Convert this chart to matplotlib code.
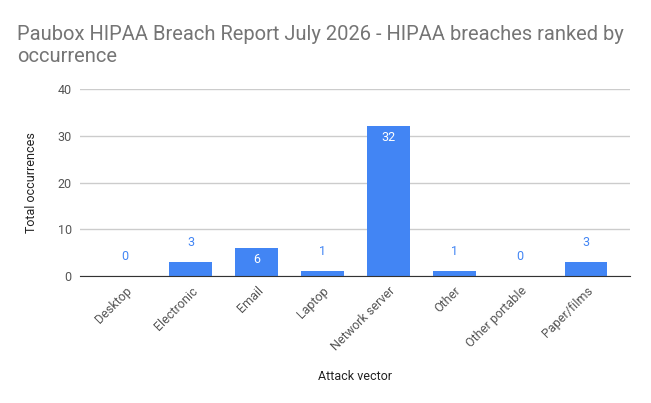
import matplotlib
matplotlib.use("Agg")
import matplotlib.pyplot as plt

plt.rcParams["font.family"] = ["Roboto", "DejaVu Sans"]

# data
categories = ["Desktop", "Electronic", "Email", "Laptop", "Network server",
              "Other", "Other portable", "Paper/films"]
occurrences = [0, 3, 6, 1, 32, 1, 0, 3]
yticks = [0, 10, 20, 30, 40]

bar_color = "#4285F4"

fig = plt.figure(figsize=(6.51, 4.03), dpi=100)
ax = fig.add_axes([80 / 651, 1 - 276 / 403, 550 / 651, (276 - 89) / 403])

x = list(range(len(categories)))
ax.bar(x, occurrences, width=0.65, color=bar_color, zorder=3)

# value labels: inside (white) for tall bars, above for short ones
for xi, v in zip(x, occurrences):
    if v >= 5:
        ax.annotate(str(v), (xi, v), xytext=(0, -8), textcoords="offset points",
                    ha="center", va="center", color="white", fontsize=9, zorder=4)
    else:
        ax.annotate(str(v), (xi, v), xytext=(0, 14), textcoords="offset points",
                    ha="center", va="center", color=bar_color, fontsize=9, zorder=4)

ax.set_xlim(-0.683, 7.668)
ax.set_ylim(0, 40)
ax.set_yticks(yticks)
ax.set_xticks(x)
ax.set_xticklabels(categories, rotation=45, ha="right", rotation_mode="anchor")

ax.grid(axis="y", color="#cccccc", lw=1, zorder=0)
for s in ["top", "right", "left"]:
    ax.spines[s].set_visible(False)
ax.spines["bottom"].set_color("#333333")
ax.spines["bottom"].set_zorder(5)
ax.tick_params(axis="both", length=0, labelsize=9, labelcolor="#555555")
ax.tick_params(axis="x", pad=6)
ax.tick_params(axis="y", pad=6)

ax.set_xlabel("Attack vector", fontsize=9, color="#222222", labelpad=12)
ax.set_ylabel("Total occurrences", fontsize=9, color="#222222", labelpad=14)

# title, two lines
fig.text(17 / 651, 1 - 35 / 403, "Paubox HIPAA Breach Report July 2026 - HIPAA breaches ranked by",
         fontsize=14.5, color="#757575", va="center", ha="left")
fig.text(17 / 651, 1 - 57 / 403, "occurrence",
         fontsize=14.5, color="#757575", va="center", ha="left")

fig.savefig("out.png", dpi=100)
